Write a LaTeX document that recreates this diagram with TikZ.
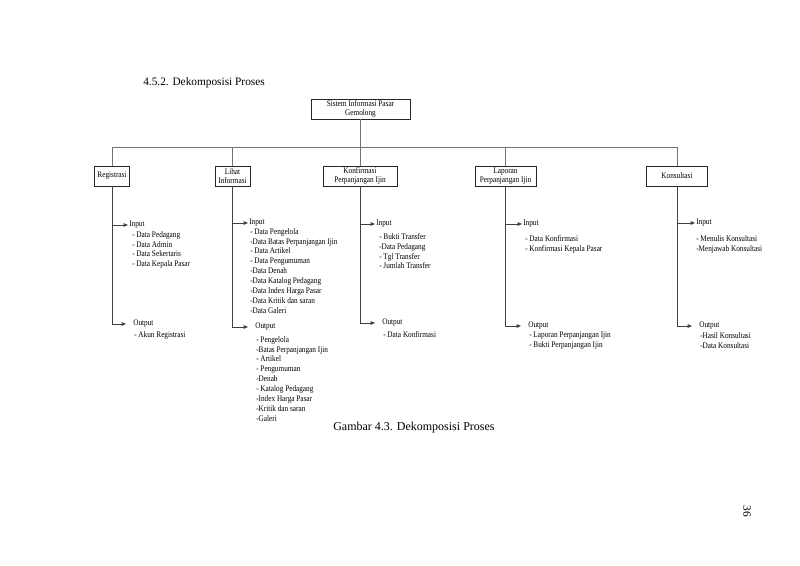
\documentclass[tikz,border=0pt]{standalone}
\usepackage{fontspec}
\setmainfont{Liberation Serif}
\newfontfamily\narrowserif[FakeStretch=0.85]{Liberation Serif}
\usetikzlibrary{arrows.meta}

\begin{document}
\begin{tikzpicture}[x=0.75pt,y=0.75pt,yscale=-1,xscale=1,
  procbox/.style={draw=black!85,line width=0.6pt,align=center,inner sep=0.75pt,minimum height=15pt,font=\narrowserif\fontsize{6.4}{6.9}\selectfont},
  treeline/.style={draw=black!55,line width=0.5pt},
  ioarrow/.style={draw=black!75,line width=0.5pt,-{Triangle[length=3.2pt,width=2.6pt]}},
  iolabel/.style={anchor=west,inner sep=0.75pt,font=\narrowserif\fontsize{6.4}{7.4}\selectfont},
  itemlist/.style={anchor=north west,inner sep=0.75pt,align=left,font=\narrowserif\fontsize{6.4}{7.4}\selectfont}]
%set diagram size: 800 x 565
\useasboundingbox (0,0) rectangle (800,565);

% Text Node
\node [anchor=west,inner sep=0.75pt,font=\fontsize{8.5}{10}\selectfont] (judul) at (142,83) {4.5.2. Dekomposisi Proses};

%Shape: Rectangle
\node [procbox,minimum width=74.25pt] (sistem) at (360.5,109) {Sistem Informasi Pasar\\Gemolong};
%Shape: Rectangle
\node [procbox,minimum width=26.25pt] (reg) at (112,176) {Registrasi};
%Shape: Rectangle
\node [procbox,minimum width=26.25pt] (lihat) at (232.5,176) {Lihat\\Informasi};
%Shape: Rectangle
\node [procbox,minimum width=55.5pt] (konf) at (360,176) {Konfirmasi\\Perpanjangan Ijin};
%Shape: Rectangle
\node [procbox,minimum width=45.75pt] (lap) at (505.5,176) {Laporan\\Perpanjangan Ijin};
%Shape: Rectangle
\node [procbox,minimum width=45.75pt] (kons) at (677,176) {Konsultasi};

%Straight Lines
\coordinate (busL) at (112,147);
\coordinate (busR) at (677,147);
\draw [treeline] (sistem.south) -- (sistem.south |- busL);
\draw [treeline] (busL) -- (busR);
\foreach \p in {reg,lihat,konf,lap,kons}
  \draw [treeline] (\p.north) -- (\p.north |- busL);

% Text Node
\node [iolabel] (regin) at (128,225) {Input};
\node [itemlist] (reginlist) at (131,230) {- Data Pedagang\\- Data Admin\\- Data Sekertaris\\- Data Kepala Pasar};
% Text Node
\node [iolabel] (regout) at (132,324) {Output};
\node [itemlist] (regoutlist) at (133,330) {- Akun Registrasi};

% Text Node
\node [iolabel] (lihatin) at (248,223) {Input};
\node [itemlist] (lihatinlist) at (249,227) {- Data Pengelola\\-Data Batas Perpanjangan Ijin\\- Data Artikel\\- Data Pengumuman\\-Data Denah\\-Data Katalog Pedagang\\-Data Index Harga Pasar\\-Data Kritik dan saran\\-Data Galeri};
% Text Node
\node [iolabel] (lihatout) at (254,327) {Output};
\node [itemlist] (lihatoutlist) at (255,335) {- Pengelola\\-Batas  Perpanjangan Ijin\\- Artikel\\- Pengumuman\\-Denah\\- Katalog Pedagang\\-Index Harga Pasar\\-Kritik dan saran\\-Galeri};

% Text Node
\node [iolabel] (konfin) at (375,224) {Input};
\node [itemlist] (konfinlist) at (378,232) {- Bukti Transfer\\-Data Pedagang\\- Tgl Transfer\\- Jumlah Transfer};
% Text Node
\node [iolabel] (konfout) at (381,323) {Output};
\node [itemlist] (konfoutlist) at (382,330) {- Data Konfirmasi};

% Text Node
\node [iolabel] (lapin) at (522,224) {Input};
\node [itemlist] (lapinlist) at (524,234) {- Data Konfirmasi\\- Konfirmasi Kepala Pasar};
% Text Node
\node [iolabel] (lapout) at (527,326) {Output};
\node [itemlist] (lapoutlist) at (528,331) {- Laporan Perpanjangan Ijin\\- Bukti Perpanjangan Ijin};

% Text Node
\node [iolabel] (konsin) at (695,223) {Input};
\node [itemlist] (konsinlist) at (695,234) {- Menulis Konsultasi\\-Menjawab Konsultasi};
% Text Node
\node [iolabel] (konsout) at (698,326) {Output};
\node [itemlist] (konsoutlist) at (699,331) {-Hasil Konsultasi\\-Data Konsultasi};

%Straight Lines
\foreach \p in {reg,lihat,konf,lap,kons} {
  \draw [ioarrow] (\p.south |- \p in.west) -- (\p in.west);
  \draw [ioarrow,shorten >=4.5pt] (\p.south) |- (\p out.west);
}

% Text Node
\node [anchor=west,inner sep=0.75pt,font=\fontsize{9}{11}\selectfont] (gambar) at (332,428) {Gambar 4.3. Dekomposisi Proses};
% Text Node
\node [rotate=-90,inner sep=0.75pt,font=\fontsize{8.5}{10}\selectfont] (halaman) at (747,511) {36};

\end{tikzpicture}
\end{document}
